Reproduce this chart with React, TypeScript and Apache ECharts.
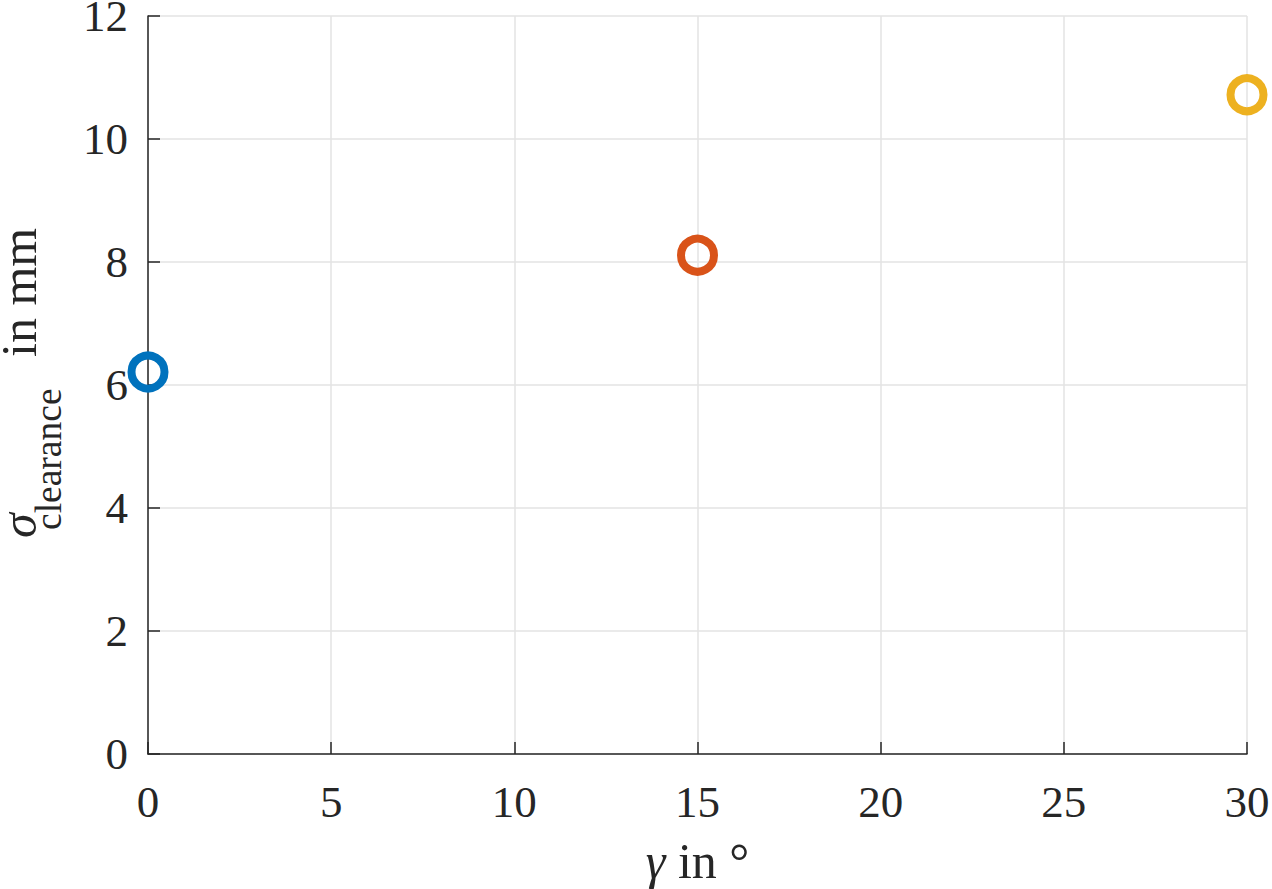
import React, { useEffect, useRef } from "react";
import * as echarts from "echarts";

const gammaValues = [0, 15, 30];
const sigmaValues = [6.21, 8.11, 10.72];
const seriesColors = ["#0072BD", "#D95319", "#EDB120"];
const xTicks = [0, 5, 10, 15, 20, 25, 30];
const yTicks = [0, 2, 4, 6, 8, 10, 12];

const FONT = "'Times New Roman', 'Liberation Serif', Tinos, 'Nimbus Roman', serif";
const AXIS_COLOR = "#262626";
const GRID_COLOR = "#e3e3e3";

export default function App() {
  const ref = useRef<HTMLDivElement>(null);

  useEffect(() => {
    if (!ref.current) return;
    document.body.style.margin = "0";
    const chart = echarts.init(ref.current, undefined, { renderer: "svg", width: 1272, height: 889 });

    const series = gammaValues.map((g, i) => ({
      type: "scatter",
      name: "s" + i,
      data: [[g, sigmaValues[i]]],
      symbol: "circle",
      symbolSize: 33,
      clip: false,
      z: 5,
      itemStyle: {
        color: "rgba(0,0,0,0)",
        borderColor: seriesColors[i],
        borderWidth: 8,
        opacity: 1,
      },
      emphasis: { disabled: true },
    }));

    chart.setOption({
      animation: false,
      backgroundColor: "#ffffff",
      textStyle: { fontFamily: FONT },
      grid: {
        left: 148,
        right: 25,
        top: 16,
        bottom: 135,
        containLabel: false,
        outerBoundsMode: "none",
      },
      xAxis: {
        type: "value",
        min: xTicks[0],
        max: xTicks[xTicks.length - 1],
        interval: 5,
        name: "{i|γ} in °",
        nameLocation: "middle",
        nameGap: 82,
        nameTextStyle: {
          fontFamily: FONT,
          fontSize: 50,
          color: AXIS_COLOR,
          verticalAlign: "top",
          rich: {
            i: { fontFamily: FONT, fontSize: 50, fontStyle: "italic", color: AXIS_COLOR },
          },
        },
        axisLine: { show: true, onZero: false, lineStyle: { color: AXIS_COLOR, width: 1.5 } },
        axisTick: { show: true, inside: true, length: 12, lineStyle: { color: AXIS_COLOR, width: 1.5 } },
        axisLabel: {
          fontFamily: FONT,
          fontSize: 45,
          color: AXIS_COLOR,
          margin: 25,
        },
        splitLine: { show: true, lineStyle: { color: GRID_COLOR, width: 1.5 } },
      },
      yAxis: {
        type: "value",
        min: yTicks[0],
        max: yTicks[yTicks.length - 1],
        interval: 2,
        axisLine: { show: true, onZero: false, lineStyle: { color: AXIS_COLOR, width: 1.5 } },
        axisTick: { show: true, inside: true, length: 12, lineStyle: { color: AXIS_COLOR, width: 1.5 } },
        axisLabel: {
          fontFamily: FONT,
          fontSize: 45,
          color: AXIS_COLOR,
          margin: 20,
        },
        splitLine: { show: true, lineStyle: { color: GRID_COLOR, width: 1.5 } },
      },
      graphic: [
        {
          type: "group",
          x: 19,
          y: 538,
          rotation: Math.PI / 2,
          children: [
            {
              type: "text",
              x: 0,
              y: 0,
              style: {
                text: "σ",
                fontFamily: FONT,
                fontSize: 50,
                fontStyle: "italic",
                fill: AXIS_COLOR,
                align: "left",
                verticalAlign: "middle",
              },
            },
            {
              type: "text",
              x: 8,
              y: 29,
              style: {
                text: "clearance",
                fontFamily: FONT,
                fontSize: 37.5,
                fill: AXIS_COLOR,
                align: "left",
                verticalAlign: "middle",
              },
            },
            {
              type: "text",
              x: 181,
              y: 0,
              style: {
                text: "in mm",
                fontFamily: FONT,
                fontSize: 50,
                fill: AXIS_COLOR,
                align: "left",
                verticalAlign: "middle",
              },
            },
          ],
        },
      ],
      series,
    });

    return () => chart.dispose();
  }, []);

  return <div ref={ref} style={{ width: 1272, height: 889, background: "#fff" }} />;
}
